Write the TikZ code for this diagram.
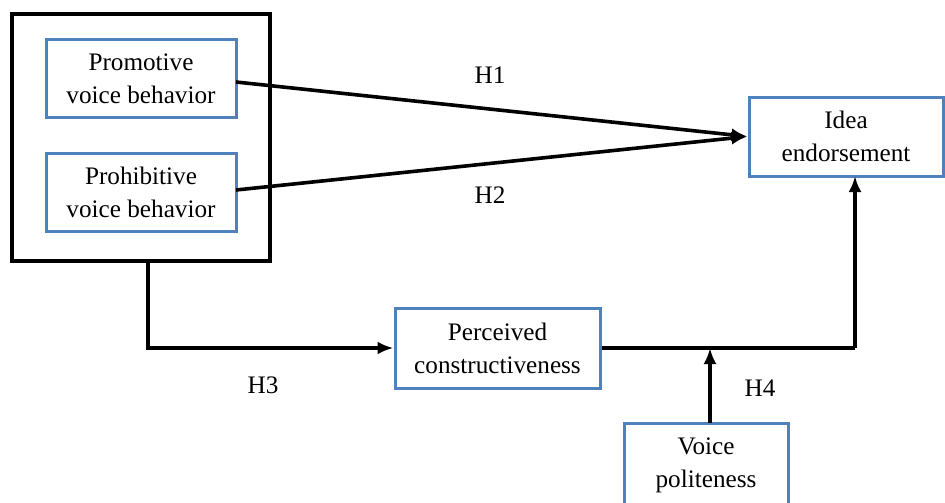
\documentclass[tikz,border=0pt]{standalone}
\usepackage{fontspec}
\setmainfont{Liberation Serif}
\usetikzlibrary{arrows.meta}
\definecolor{boxblue}{HTML}{4F81BD}
\begin{document}
\begin{tikzpicture}[x=1pt,y=-1pt,
  vbox/.style={draw=boxblue,line width=3pt,rectangle,align=center,inner sep=0pt,
    font=\fontsize{25.2}{33}\selectfont},
  lbl/.style={font=\fontsize{25.2}{30}\selectfont,inner sep=0pt},
  conn/.style={line width=3.6pt,-{Latex[length=16pt,width=13pt]}},
  plain/.style={line width=3.6pt}]
\useasboundingbox (0,0) rectangle (945,503);
\clip (0,0) rectangle (945,503);
\node[draw=black,line width=3.8pt,minimum width=258pt,minimum height=247pt,inner sep=0pt] (outer) at (141,137.5) {};
\node[vbox,minimum width=190pt,minimum height=77pt] (promo) at (141,78.5) {Promotive\\voice behavior};
\node[vbox,minimum width=190pt,minimum height=78pt] (prohib) at (141,192) {Prohibitive\\voice behavior};
\node[vbox,minimum width=194pt,minimum height=79pt] (idea) at (846,136.5) {Idea\\endorsement};
\node[vbox,minimum width=205pt,minimum height=80pt] (perc) at (497.5,348) {Perceived\\constructiveness};
\node[vbox,minimum width=164pt,minimum height=84pt] (voice) at (706,465) {Voice\\politeness};
\coordinate (p1) at (236,82);
\coordinate (p2) at (236,190);
\coordinate (tgt) at (idea.west);
\draw[conn] (p1) -- (tgt);
\draw[conn] (p2) -- (tgt);
\coordinate (ob) at (148,261);
\draw[conn] (ob) |- (perc.west);
\coordinate (ib) at (855,176);
\coordinate (corner) at (855,348);
\draw[plain] (perc.east) -- (corner);
\draw[conn] (corner) -- (ib);
\coordinate (vt) at (710,423);
\coordinate (vm) at (710,348);
\draw[conn] (vt) -- (vm);
\node[lbl] (h1) at (490,75) {H1};
\node[lbl] (h2) at (490,195) {H2};
\node[lbl] (h3) at (263,385) {H3};
\node[lbl] (h4) at (760,388) {H4};
\end{tikzpicture}
\end{document}
